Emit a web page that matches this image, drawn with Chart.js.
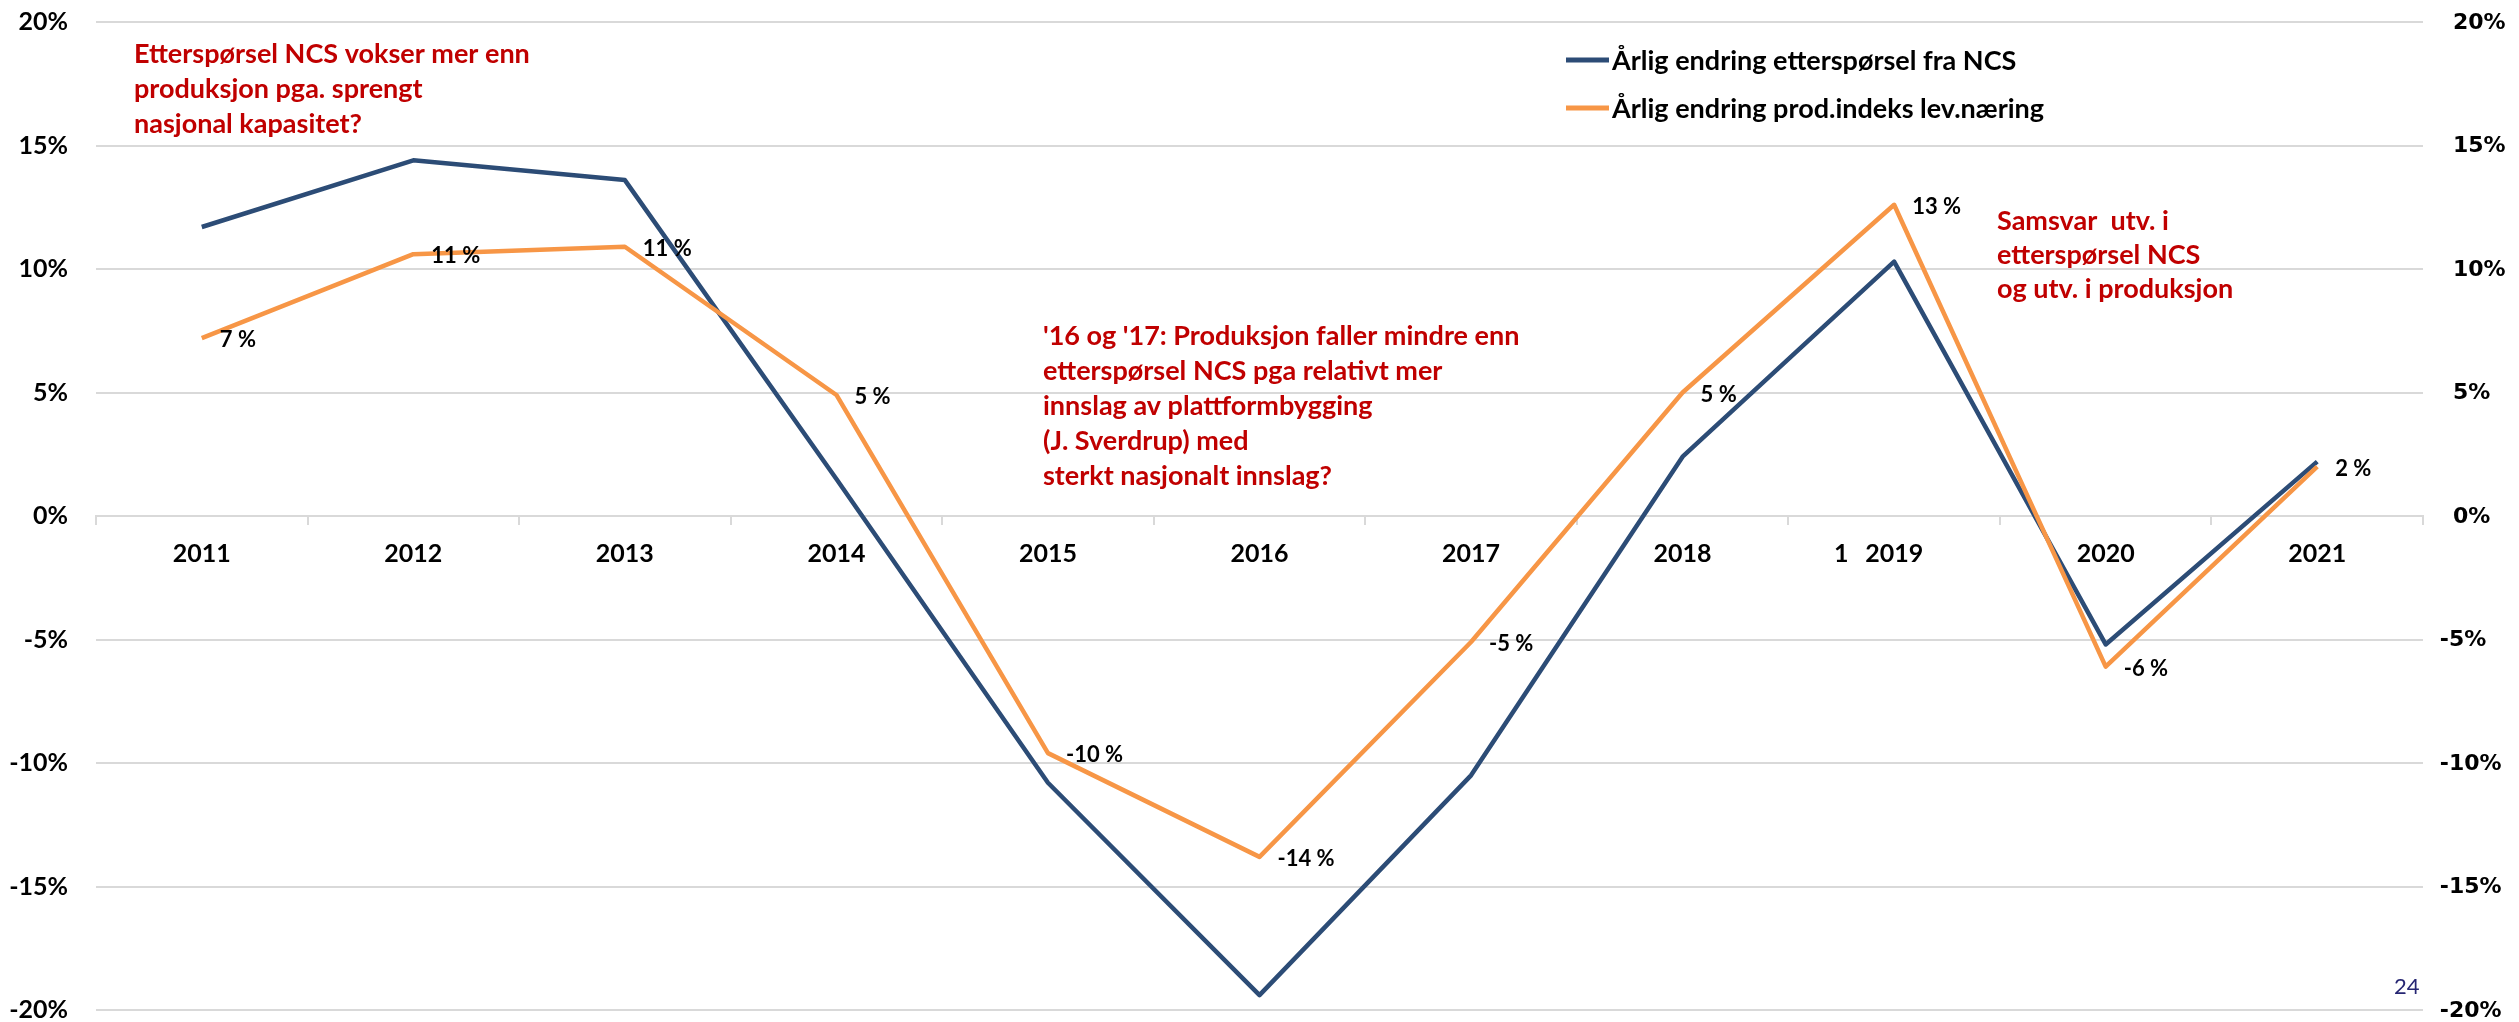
<!DOCTYPE html>
<html>
<head>
<meta charset="utf-8">
<script src="https://cdn.jsdelivr.net/npm/chart.js@4.4.1/dist/chart.umd.min.js"></script>
<style>
  html, body { margin: 0; padding: 0; background: #ffffff; }
  #wrap { width: 2519px; height: 1022px; position: relative; }
</style>
</head>
<body>
<div id="wrap"><canvas id="chart" width="2519" height="1022"></canvas></div>
<script>
// Årlig endring i prosent
const years = ['2011', '2012', '2013', '2014', '2015', '2016', '2017', '2018', '2019', '2020', '2021'];
const demandNCS = [11.7, 14.4, 13.6, 1.5, -10.8, -19.4, -10.5, 2.4, 10.3, -5.2, 2.2];
const prodIndex = [7.2, 10.6, 10.9, 4.9, -9.6, -13.8, -5.1, 5.0, 12.6, -6.1, 2.0];
const seriesNames = ['Årlig endring etterspørsel fra NCS', 'Årlig endring prod.indeks lev.næring'];
const axisMin = -20;
const axisMax = 20;
const axisStep = 5;

const notes = [
  ['Etterspørsel NCS vokser mer enn', 'produksjon pga. sprengt', 'nasjonal kapasitet?'],
  ["'16 og '17: Produksjon faller mindre enn", 'etterspørsel NCS pga relativt mer', 'innslag av plattformbygging', '(J. Sverdrup) med', 'sterkt nasjonalt innslag?'],
  ['Samsvar  utv. i', 'etterspørsel NCS', 'og utv. i produksjon']
];
const pageNumber = '24';
const strayMark = '1';

const BLUE = '#2C4C76';
const ORANGE = '#F79646';
const RED = '#C00000';
const GRID = '#D9D9D9';
const FONT = 'Lato, "Open Sans", sans-serif';

const pct = v => v + '%';

// Textblokker, forklaring, verdietiketter, høyre akseetiketter og sidetall
const overlay = {
  id: 'overlay',
  afterDatasetsDraw(chart) {
    const ctx = chart.ctx;

    // verdietiketter på produksjonsserien
    const meta = chart.getDatasetMeta(1);
    ctx.save();
    ctx.fillStyle = '#000000';
    ctx.font = 'bold 22px ' + FONT;
    ctx.textAlign = 'left';
    ctx.textBaseline = 'middle';
    meta.data.forEach((pt, i) => {
      const v = chart.data.datasets[1].data[i];
      ctx.fillText(Math.round(v) + ' %', pt.x + 18, pt.y + 2);
    });
    ctx.restore();
  },
  afterDraw(chart) {
    const ctx = chart.ctx;
    const x = chart.scales.x;
    const r = chart.scales.y2;
    ctx.save();

    // høyre akse: venstrejustert, minustegnet henger ut til venstre
    ctx.font = 'bold 22px "DejaVu Sans"';
    ctx.fillStyle = '#000000';
    ctx.textAlign = 'left';
    ctx.textBaseline = 'middle';
    const minusW = ctx.measureText('-').width;
    r.ticks.forEach(t => {
      const px = r.left + 30 - (t.value < 0 ? minusW + 4 : 0);
      ctx.fillText(pct(t.value), px, r.getPixelForValue(t.value) + 1);
    });

    // røde kommentarer
    ctx.fillStyle = RED;
    ctx.font = 'bold 27px ' + FONT;
    ctx.textAlign = 'left';
    ctx.textBaseline = 'alphabetic';
    const blocks = [
      { lines: notes[0], left: 134, base: 63, step: 35 },
      { lines: notes[1], left: 1043, base: 345, step: 35 },
      { lines: notes[2], left: 1997, base: 230, step: 34 }
    ];
    blocks.forEach(b => b.lines.forEach((t, k) => ctx.fillText(t, b.left, b.base + k * b.step)));

    // forklaring
    const rows = [60, 108];
    chart.data.datasets.forEach((ds, i) => {
      ctx.strokeStyle = ds.borderColor;
      ctx.lineWidth = 5;
      ctx.lineCap = 'butt';
      ctx.beginPath();
      ctx.moveTo(1566, rows[i]);
      ctx.lineTo(1609, rows[i]);
      ctx.stroke();
      ctx.fillStyle = '#000000';
      ctx.font = 'bold 27px ' + FONT;
      ctx.textBaseline = 'middle';
      ctx.fillText(ds.label, 1612, rows[i] + 1);
    });

    // ekstra merke ved 2019
    ctx.font = 'bold 25px ' + FONT;
    ctx.textAlign = 'center';
    ctx.textBaseline = 'middle';
    ctx.fillStyle = '#000000';
    ctx.fillText(strayMark, x.getPixelForValue(8) - 53, chart.scales.y.getPixelForValue(0) + 38);

    // sidetall
    ctx.font = '22px ' + FONT;
    ctx.fillStyle = '#262673';
    ctx.textAlign = 'left';
    ctx.fillText(pageNumber, 2394, 987);
    ctx.restore();
  }
};

// y-aksene skal ikke legge til ekstra marg over og under plottet
const fixedWidth = w => scale => {
  scale.width = w;
  scale.paddingTop = 0;
  scale.paddingBottom = 0;
};

new Chart(document.getElementById('chart'), {
  type: 'line',
  data: {
    labels: years,
    datasets: [
      {
        label: seriesNames[0],
        data: demandNCS,
        borderColor: BLUE,
        backgroundColor: BLUE,
        borderWidth: 4.5,
        pointRadius: 0,
        tension: 0,
        borderJoinStyle: 'round',
        order: 1,
        yAxisID: 'y'
      },
      {
        label: seriesNames[1],
        data: prodIndex,
        borderColor: ORANGE,
        backgroundColor: ORANGE,
        borderWidth: 4.5,
        pointRadius: 0,
        tension: 0,
        borderJoinStyle: 'round',
        order: 0,
        yAxisID: 'y'
      }
    ]
  },
  options: {
    responsive: false,
    animation: false,
    devicePixelRatio: 1,
    layout: { padding: { left: 0, right: 0, top: 22, bottom: 12 } },
    plugins: {
      legend: { display: false },
      tooltip: { enabled: false },
      title: { display: false }
    },
    scales: {
      x: {
        type: 'category',
        position: { y: 0 },
        offset: true,
        grid: {
          offset: true,
          drawOnChartArea: false,
          drawTicks: true,
          tickLength: 8,
          color: GRID,
          lineWidth: 2
        },
        border: { display: true, color: GRID, width: 2 },
        ticks: {
          autoSkip: false,
          maxRotation: 0,
          padding: 15,
          color: '#000000',
          font: { family: FONT, size: 25, weight: 'bold', lineHeight: 1.2 }
        },
        afterFit(scale) { scale.height = 0; }
      },
      y: {
        position: 'left',
        min: axisMin,
        max: axisMax,
        grid: { color: GRID, lineWidth: 2, drawTicks: false },
        border: { display: false },
        ticks: {
          stepSize: axisStep,
          padding: 28,
          color: '#000000',
          callback: pct,
          font: { family: FONT, size: 25, weight: 'bold', lineHeight: 1 }
        },
        afterFit: fixedWidth(96)
      },
      y2: {
        position: 'right',
        min: axisMin,
        max: axisMax,
        grid: { display: false, drawTicks: false },
        border: { display: false },
        ticks: { stepSize: axisStep, display: false },
        afterFit: fixedWidth(96)
      }
    }
  },
  plugins: [overlay]
});
</script>
</body>
</html>
